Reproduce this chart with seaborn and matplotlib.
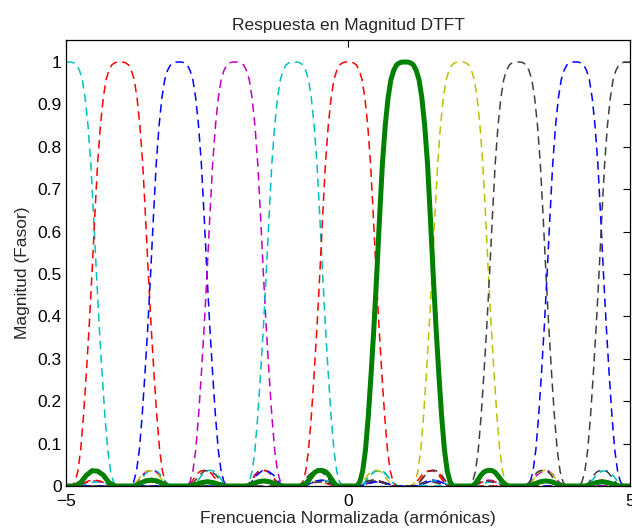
import numpy as np
import pandas as pd
import matplotlib
matplotlib.use("Agg")
import matplotlib.pyplot as plt
import seaborn as sns

# ---- data ----
# half-profile of one filter response: offset from its centre (harmonics) -> magnitude
profile_offset = [0.00, 0.05, 0.10, 0.15, 0.20, 0.25, 0.30, 0.35, 0.40, 0.45,
                  0.50, 0.55, 0.60, 0.65, 0.70, 0.75, 0.80, 0.85, 1.00, 1.20,
                  1.25, 1.30, 1.35, 1.40, 1.45, 1.50, 1.55, 1.60, 1.65, 1.70,
                  1.75, 1.80, 1.85, 2.20, 2.30, 2.40, 2.50, 2.60, 2.70, 2.80,
                  3.20, 3.30, 3.40, 3.50, 3.60, 3.70, 3.80, 4.20, 4.30, 4.40,
                  4.50, 4.60, 4.70, 4.80, 5.15, 5.25, 5.35, 5.45, 5.55, 5.65,
                  5.75, 5.85, 10.5]
profile_mag = [1.000, 1.000, 0.998, 0.993, 0.980, 0.958, 0.915, 0.850, 0.760, 0.635,
               0.500, 0.375, 0.265, 0.165, 0.085, 0.035, 0.010, 0.000, 0.000, 0.000,
               0.006, 0.016, 0.026, 0.033, 0.036, 0.037, 0.036, 0.032, 0.024, 0.015,
               0.007, 0.002, 0.000, 0.000, 0.005, 0.010, 0.012, 0.010, 0.005, 0.000,
               0.000, 0.004, 0.008, 0.010, 0.008, 0.004, 0.000, 0.000, 0.006, 0.012,
               0.014, 0.012, 0.006, 0.000, 0.000, 0.008, 0.026, 0.035, 0.036, 0.025,
               0.008, 0.000, 0.000]

# centres of the dashed responses and their colours
dashed_centers = [-4.96, -4.04, -3.00, -2.00, -0.95, 0.00, 1.99, 3.01, 4.03, 4.95]
dashed_colors = ["#00BFBF", "#FF0000", "#0000FF", "#BF00BF", "#00BFBF", "#FF0000",
                 "#BFBF00", "#404040", "#0000FF", "#404040"]
# highlighted (solid) response
main_center = 1.01
main_color = "#008000"

title = "Respuesta en Magnitud DTFT"
xlabel = "Frencuencia Normalizada (armónicas)"
ylabel = "Magnitud (Fasor)"
xticks = [-5, 0, 5]
yticks = [0, 0.1, 0.2, 0.3, 0.4, 0.5, 0.6, 0.7, 0.8, 0.9, 1]

# ---- build full symmetric template ----
off = np.array(profile_offset)
mag = np.array(profile_mag)
full_off = np.concatenate([-off[::-1], off[1:]])
full_mag = np.concatenate([mag[::-1], mag[1:]])

rows = []
for i, c in enumerate(dashed_centers):
    rows.append(pd.DataFrame({"f": c + full_off, "mag": full_mag, "curve": f"c{i}"}))
df_dashed = pd.concat(rows, ignore_index=True)
df_main = pd.DataFrame({"f": main_center + full_off, "mag": full_mag, "curve": "main"})

sns.set_theme(style="white")
plt.rcParams["font.family"] = ["Liberation Sans", "DejaVu Sans"]

fig = plt.figure(figsize=(6.32, 5.29), dpi=100)
ax = fig.add_axes([66 / 632, 43 / 529, 564 / 632, 446 / 529])

palette = {f"c{i}": col for i, col in enumerate(dashed_colors)}
dashes = {f"c{i}": (5.5, 3.5) for i in range(len(dashed_colors))}
sns.lineplot(data=df_dashed, x="f", y="mag", hue="curve", style="curve",
             palette=palette, dashes=dashes, estimator=None, sort=False,
             linewidth=1.1, legend=False, ax=ax)
sns.lineplot(data=df_main, x="f", y="mag", color=main_color, estimator=None,
             sort=False, linewidth=3.6, legend=False, ax=ax)

ax.set_xlim(-5, 5)
ax.set_ylim(0, 1.052)
ax.set_xticks(xticks)
ax.set_yticks(yticks)
ax.set_yticklabels([f"{v:g}" for v in yticks])
ax.tick_params(direction="in", top=True, right=True, length=5, width=0.8,
               labelsize=12.5, colors="black", pad=3)
ax.tick_params(axis="x", pad=6)
for s in ax.spines.values():
    s.set_visible(True)
    s.set_color("black")
    s.set_linewidth(0.9)
ax.set_title(title, fontsize=12.5, pad=7)
ax.set_xlabel(xlabel, fontsize=12.5, labelpad=1)
ax.set_ylabel(ylabel, fontsize=12.5)
ax.yaxis.set_label_coords(-0.064, 0.478)

fig.savefig("out.png", dpi=100, facecolor="white")
